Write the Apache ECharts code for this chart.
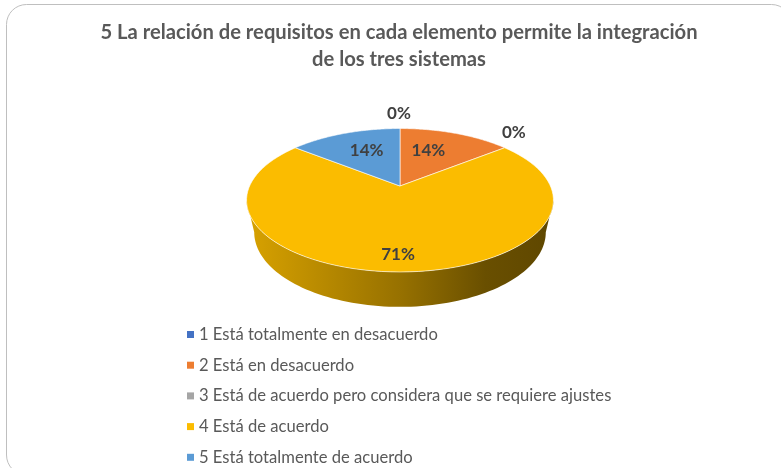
<!DOCTYPE html>
<html>
<head>
<meta charset="utf-8">
<style>
  html, body { margin: 0; padding: 0; background: #fff; }
  #main { width: 781px; height: 468px; }
</style>
<script src="https://cdn.jsdelivr.net/npm/echarts@6/dist/echarts.min.js"></script>
</head>
<body>
<div id="main"></div>
<script>
var titleText = '5 La relación de requisitos en cada elemento permite la integración\nde los tres sistemas';
var categories = [
  '1 Está totalmente en desacuerdo',
  '2 Está en desacuerdo',
  '3 Está de acuerdo pero considera que se requiere ajustes',
  '4 Está de acuerdo',
  '5 Está totalmente de acuerdo'
];
var values = [0, 1, 0, 5, 1];
var colors = ['#4472c4', '#ed7d31', '#a5a5a5', '#fbbc00', '#5b9bd5'];

// where each label sits: fraction of radius along the slice middle, then a nudge
var labelRadius = [1.32, 0.6, 1.1, 0.83, 0.6];
var labelNudge = [[-1, 0], [-7, -2], [0, -12], [-2, 0], [2, -2]];

// tilted disc, the near side looks bigger like the excel 3d pie
var cx = 400, cy = 186, k = 150.4, a = 68.9, c = 0.1986;
var tangent = Math.acos(-c);

function top3d(angle, r) {
  var u = r * Math.sin(angle), v = r * Math.cos(angle);
  var d = 1 + c * v;
  return [cx + k * u / d, cy - a * v / d];
}
function bottom3d(angle) {
  var p = top3d(angle, 1);
  return [cx + (p[0] - cx) * 0.95, cy + 46 + (p[1] - cy - 14) * 1.04];
}
// lift only goes lighter, the wall needs darker
function shade(color, f) {
  var rgb = echarts.color.parse(color);
  return 'rgb(' + Math.round(rgb[0] * f) + ',' + Math.round(rgb[1] * f) + ',' + Math.round(rgb[2] * f) + ')';
}

var total = values.reduce(function (s, v) { return s + v; }, 0);
var running = 0;

function sliceItem(params, api) {
  var i = params.seriesIndex;
  var start = api.value(0) / total * Math.PI * 2;
  var end = api.value(1) / total * Math.PI * 2;
  var color = colors[i];
  var children = [];
  var j, n = 90;

  if (end > start) {
    // side wall, only the part facing us
    var from = Math.max(start, tangent);
    var to = Math.min(end, Math.PI * 2 - tangent);
    if (to > from) {
      var upper = [], lower = [];
      for (j = 0; j <= n; j++) {
        var t = from + (to - from) * j / n;
        upper.push(top3d(t, 1));
        lower.unshift(bottom3d(t));
      }
      children.push({
        type: 'polygon',
        shape: { points: upper.concat(lower) },
        style: {
          fill: {
            type: 'linear', global: true, x: cx - 153, y: 0, x2: cx + 153, y2: 0,
            colorStops: [
              { offset: 0, color: shade(color, 0.86) },
              { offset: 0.5, color: shade(color, 0.6) },
              { offset: 0.78, color: shade(color, 0.42) },
              { offset: 1, color: shade(color, 0.38) }
            ]
          }
        }
      });
    }
    // top face
    var face = [top3d(0, 0)];
    for (j = 0; j <= n; j++) {
      face.push(top3d(start + (end - start) * j / n, 1));
    }
    children.push({
      type: 'polygon',
      shape: { points: face },
      style: { fill: color, stroke: 'rgba(255,255,255,0.6)', lineWidth: 1 }
    });
  }

  var mid = (start + end) / 2;
  var pos = top3d(mid, labelRadius[i]);
  children.push({
    type: 'text',
    x: pos[0] + labelNudge[i][0],
    y: pos[1] + labelNudge[i][1],
    style: {
      text: Math.round(api.value(2) / total * 100) + '%',
      fill: '#404040',
      font: 'bold 17px Lato',
      align: 'center',
      verticalAlign: 'middle'
    }
  });
  return { type: 'group', children: children };
}

var series = categories.map(function (name, i) {
  var item = [running, running + values[i], values[i]];
  running += values[i];
  return {
    type: 'custom',
    name: name,
    coordinateSystem: 'none',
    renderItem: sliceItem,
    itemStyle: { color: colors[i] },
    data: [item],
    silent: true
  };
});

var myChart = echarts.init(document.getElementById('main'));
myChart.setOption({
  animation: false,
  backgroundColor: '#ffffff',
  title: {
    text: titleText,
    left: 394,
    textAlign: 'center',
    top: 14,
    textStyle: { fontFamily: 'Lato', fontSize: 20.2, fontWeight: 'bold', color: '#595959', lineHeight: 27 }
  },
  legend: {
    orient: 'vertical',
    left: 187,
    top: 324.5,
    height: 160,
    padding: 0,
    icon: 'rect',
    itemWidth: 7,
    itemHeight: 7,
    itemGap: 10.7,
    selectedMode: false,
    data: categories,
    textStyle: { fontFamily: 'Lato', fontSize: 16.6, color: '#595959', lineHeight: 20, height: 20 }
  },
  graphic: [{
    type: 'rect',
    silent: true,
    z: -1,
    shape: { x: 6.5, y: 4.5, width: 785, height: 470.5, r: 20 },
    style: { fill: 'none', stroke: '#bfbfbf', lineWidth: 1 }
  }],
  series: series
});
</script>
</body>
</html>
